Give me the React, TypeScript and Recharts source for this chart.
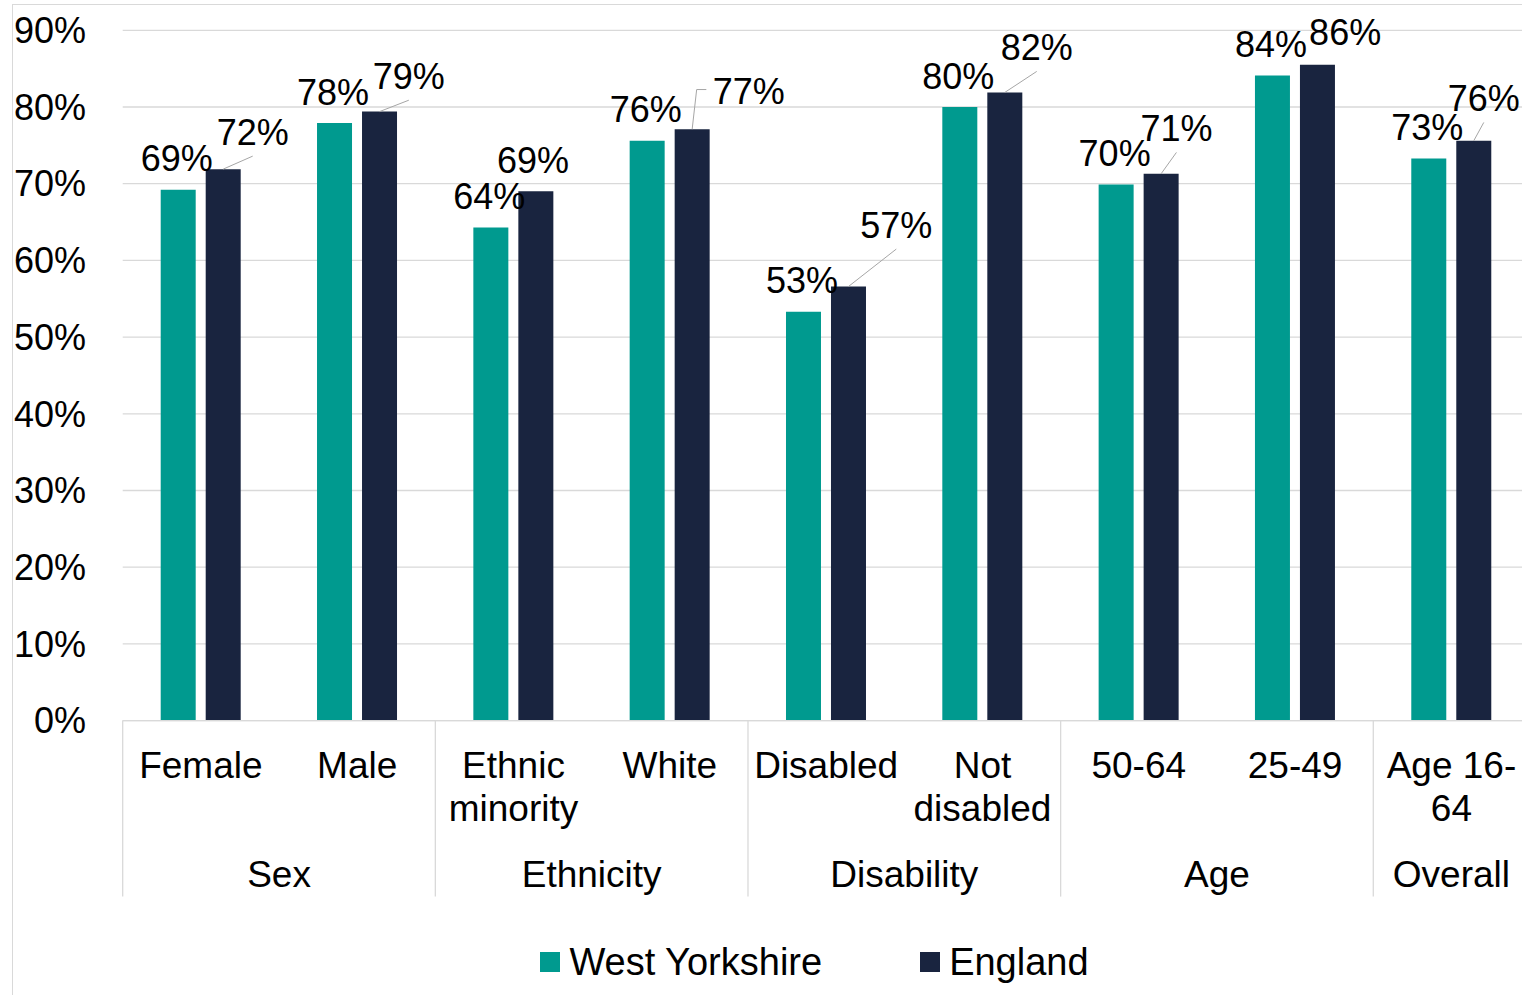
import React from 'react';
import { BarChart, Bar, XAxis, YAxis, CartesianGrid, Legend, LabelList } from 'recharts';

// ---------- data ----------
const categories = [
  'Female',
  'Male',
  'Ethnic minority',
  'White',
  'Disabled',
  'Not disabled',
  '50-64',
  '25-49',
  'Age 16-64',
];
const westYorkshire = [69.2, 77.9, 64.3, 75.6, 53.3, 80.0, 69.9, 84.1, 73.3];
const england = [71.9, 79.4, 69.0, 77.1, 56.6, 81.9, 71.3, 85.5, 75.6];
const groupNames = ['Sex', 'Ethnicity', 'Disability', 'Age', 'Overall'];
const groupSizes = [2, 2, 2, 2, 1];
const yTicks = [0, 10, 20, 30, 40, 50, 60, 70, 80, 90];
const seriesNames = ['West Yorkshire', 'England'];

// ---------- styling / placement (not data) ----------
const FONT = "'Liberation Sans', Arial, Helvetica, sans-serif";
const TEAL = '#009A8F';
const NAVY = '#19243F';
const SERIES_COLORS = [TEAL, NAVY];
const GRID = '#d9d9d9';
const LEADER = '#a6a6a6';

const CHART_W = 1629;
const CHART_H = 995;
const MARGIN = { top: 30.3, right: 99.4, left: 0, bottom: 14.4 };
const Y_AXIS_W = 122.7;
const X_AXIS_H = 200;
const LEGEND_H = 60;
const BAND_FALLBACK = (CHART_W - MARGIN.left - MARGIN.right - Y_AXIS_W) / categories.length;

// England label placement relative to the top-centre of its bar, as in the original
const englandLabelPlacement = [
  { dx: 29.5, dy: -24, leader: 'line' },
  { dx: 29.3, dy: -22.4, leader: 'line' },
  { dx: -2.8, dy: -18.4, leader: 'none' },
  { dx: 56.7, dy: -25.7, leader: 'elbow' },
  { dx: 47.8, dy: -48.4, leader: 'line' },
  { dx: 31.9, dy: -32, leader: 'line' },
  { dx: 15.3, dy: -32.3, leader: 'line' },
  { dx: 27.7, dy: -19.7, leader: 'none' },
  { dx: 10, dy: -29.3, leader: 'line' },
];

const data = categories.map((c, i) => ({
  category: c,
  wy: westYorkshire[i],
  eng: england[i],
}));

// group start index for each category
const groupOf: { g: number; start: number }[] = [];
{
  let s = 0;
  groupSizes.forEach((n, g) => {
    for (let k = 0; k < n; k++) groupOf.push({ g, start: s });
    s += n;
  });
}

let measureCtx: CanvasRenderingContext2D | null = null;
function textWidth(t: string, size: number) {
  try {
    if (!measureCtx) {
      const c = document.createElement('canvas');
      measureCtx = c.getContext('2d');
    }
    if (measureCtx) {
      measureCtx.font = `${size}px 'Liberation Sans', Arial, sans-serif`;
      return measureCtx.measureText(t).width;
    }
  } catch (e) {
    /* ignore */
  }
  return t.length * size * 0.55;
}

function wrapLabel(label: string, maxW: number, size: number) {
  // break opportunities: after spaces and hyphens
  const tokens = label.match(/[^\s-]+-?|\s+/g) || [label];
  const lines: string[] = [];
  let cur = '';
  tokens.forEach((tok) => {
    const cand = cur + tok;
    if (cur.trim() !== '' && textWidth(cand.trimEnd(), size) > maxW) {
      lines.push(cur.trimEnd());
      cur = tok.trim() === '' ? '' : tok;
    } else {
      cur = cand;
    }
  });
  if (cur.trim() !== '') lines.push(cur.trimEnd());
  return lines;
}

const CAT_SIZE = 37;

const CategoryTick = (props: any) => {
  const { x, y, payload } = props;
  const idx = typeof props.index === 'number' ? props.index : categories.indexOf(payload.value);
  const half =
    payload && typeof payload.offset === 'number' && payload.offset > 0 ? payload.offset : BAND_FALLBACK / 2;
  const lines = wrapLabel(String(payload.value), 2 * half - 4, CAT_SIZE);
  const info = groupOf[idx];
  const isFirst = info && info.start === idx;
  const isLast = idx === categories.length - 1;
  const els: React.ReactNode[] = [];
  lines.forEach((ln, k) => {
    els.push(
      <text
        key={'l' + k}
        x={x}
        y={y + 57.5 + k * 42.5}
        textAnchor="middle"
        fontSize={CAT_SIZE}
        fontFamily={FONT}
        fill="#000"
      >
        {ln}
      </text>
    );
  });
  if (isFirst) {
    const left = x - half;
    els.push(<line key="sepL" x1={left} x2={left} y1={y} y2={y + 176} stroke={GRID} strokeWidth={1.3} />);
    const size = groupSizes[info.g];
    els.push(
      <text
        key="grp"
        x={left + size * half}
        y={y + 166}
        textAnchor="middle"
        fontSize={CAT_SIZE}
        fontFamily={FONT}
        fill="#000"
      >
        {groupNames[info.g]}
      </text>
    );
  }
  if (isLast) {
    const right = x + half;
    els.push(<line key="sepR" x1={right} x2={right} y1={y} y2={y + 176} stroke={GRID} strokeWidth={1.3} />);
  }
  return <g>{els}</g>;
};

const LABEL_SIZE = 36;

const WyLabel = (props: any) => {
  const { x, y, width, value } = props;
  if (value == null) return null;
  return (
    <text
      x={Number(x) + Number(width) / 2 - 1.5}
      y={Number(y) - 18.5}
      textAnchor="middle"
      fontSize={LABEL_SIZE}
      fontFamily={FONT}
      fill="#000"
    >
      {Math.round(Number(value))}%
    </text>
  );
};

const EngLabel = (props: any) => {
  const { x, y, width, value, index } = props;
  if (value == null) return null;
  const p = englandLabelPlacement[index] || { dx: 0, dy: -18.5, leader: 'none' };
  const cx = Number(x) + Number(width) / 2;
  const top = Number(y);
  const lx = cx + p.dx;
  const ly = top + p.dy;
  const txt = `${Math.round(Number(value))}%`;
  const halfW = textWidth(txt, LABEL_SIZE) / 2;
  let leader: React.ReactNode = null;
  if (p.leader === 'line') {
    leader = <line x1={cx} y1={top} x2={lx} y2={ly + 11} stroke={LEADER} strokeWidth={1} />;
  } else if (p.leader === 'elbow') {
    leader = (
      <polyline
        points={`${cx},${top} ${cx + 4.5},${ly - 14} ${lx - halfW - 6.5},${ly - 14}`}
        fill="none"
        stroke={LEADER}
        strokeWidth={1}
      />
    );
  }
  return (
    <g>
      {leader}
      <text x={lx} y={ly} textAnchor="middle" fontSize={LABEL_SIZE} fontFamily={FONT} fill="#000">
        {txt}
      </text>
    </g>
  );
};

const LegendContent = () => {
  return (
    <div
      style={{
        height: LEGEND_H,
        display: 'flex',
        justifyContent: 'center',
        alignItems: 'center',
        fontFamily: FONT,
        fontSize: 38,
        color: '#000',
      }}
    >
      {seriesNames.map((name, i) => (
        <div
          key={name}
          style={{ display: 'flex', alignItems: 'center', marginLeft: i === 0 ? 0 : 98, whiteSpace: 'nowrap' }}
        >
          <span
            style={{ display: 'inline-block', width: 20, height: 20, background: SERIES_COLORS[i], marginRight: 9 }}
          />
          <span style={{ lineHeight: '40px' }}>{name}</span>
        </div>
      ))}
    </div>
  );
};

export default function App() {
  return (
    <div
      style={{
        position: 'fixed',
        left: 0,
        top: 0,
        width: 1522,
        height: 995,
        overflow: 'hidden',
        background: '#fff',
      }}
    >
      <div
        style={{
          position: 'absolute',
          left: 11.5,
          top: 3.5,
          width: 1700,
          height: 1100,
          border: `1.3px solid ${GRID}`,
          boxSizing: 'border-box',
        }}
      />
      <div style={{ position: 'absolute', left: 0, top: 0, fontFamily: FONT }}>
        <BarChart
          width={CHART_W}
          height={CHART_H}
          data={data}
          margin={MARGIN}
          barGap={10}
          style={{ fontFamily: FONT }}
        >
          <CartesianGrid vertical={false} stroke={GRID} strokeWidth={1.3} />
          <XAxis
            dataKey="category"
            interval={0}
            height={X_AXIS_H}
            tickLine={false}
            tickSize={0}
            tickMargin={0}
            axisLine={{ stroke: GRID, strokeWidth: 1.3 }}
            tick={<CategoryTick />}
          />
          <YAxis
            domain={[0, 90]}
            ticks={yTicks}
            interval={0}
            width={Y_AXIS_W}
            axisLine={false}
            tickLine={false}
            tickSize={0}
            tickMargin={36.7}
            tickFormatter={(v: number) => `${v}%`}
            tick={{ fontSize: 36, fill: '#000', fontFamily: FONT }}
          />
          <Legend
            verticalAlign="bottom"
            height={LEGEND_H}
            content={<LegendContent />}
            wrapperStyle={{ top: 932, bottom: 'auto', left: 0, width: CHART_W, height: LEGEND_H }}
          />
          <Bar dataKey="wy" name={seriesNames[0]} fill={TEAL} barSize={35} isAnimationActive={false}>
            <LabelList dataKey="wy" content={<WyLabel />} />
          </Bar>
          <Bar dataKey="eng" name={seriesNames[1]} fill={NAVY} barSize={35} isAnimationActive={false}>
            <LabelList dataKey="eng" content={<EngLabel />} />
          </Bar>
        </BarChart>
      </div>
    </div>
  );
}
